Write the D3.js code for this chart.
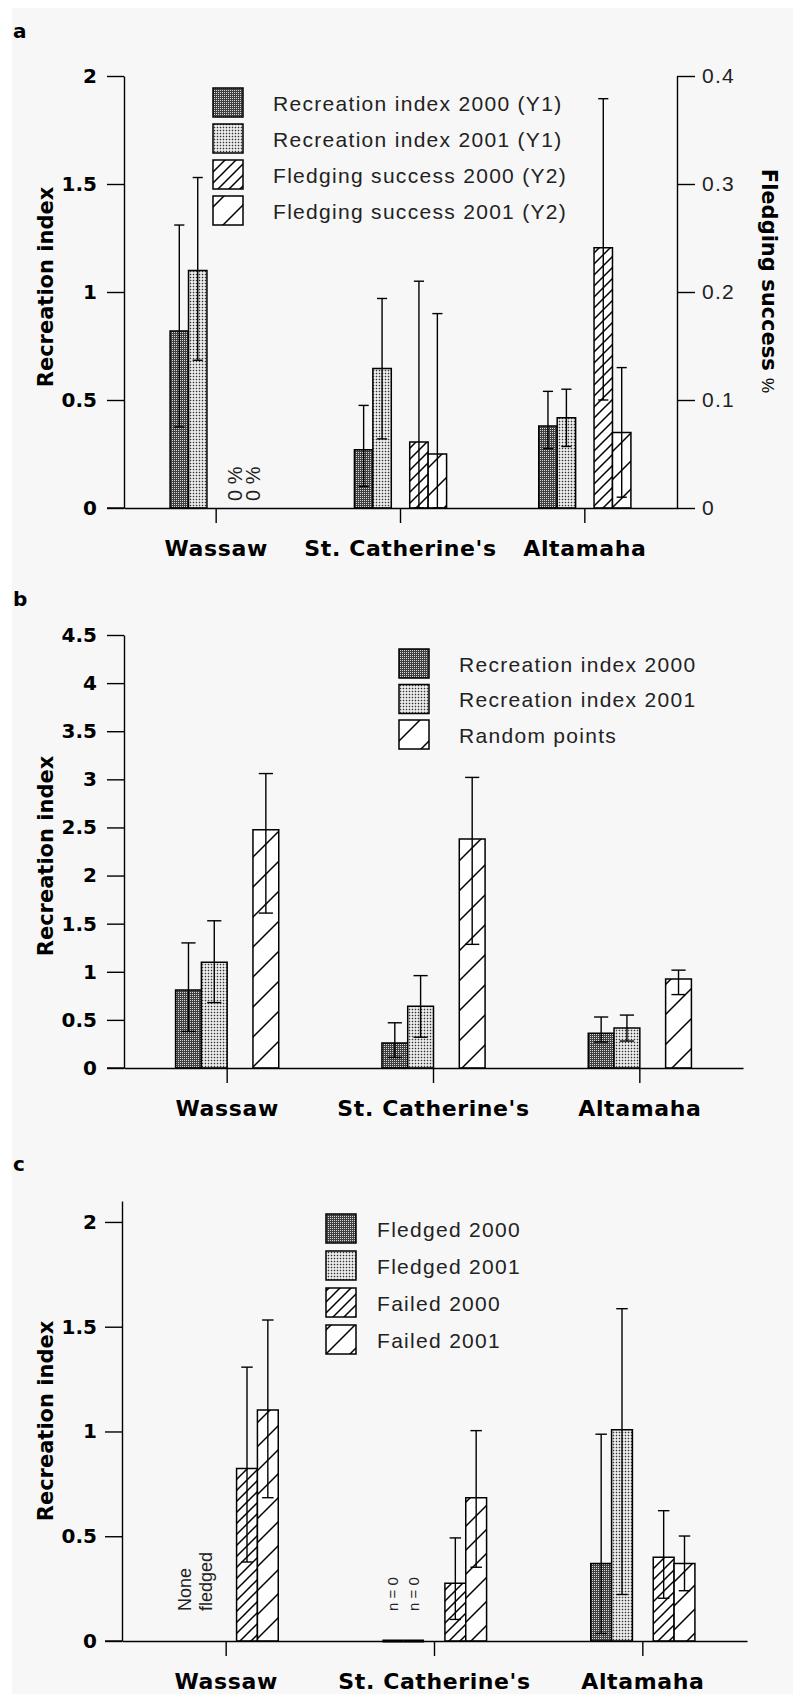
<!DOCTYPE html>
<html><head><meta charset="utf-8">
<script src="https://cdn.jsdelivr.net/npm/d3@7"></script>
<style>
html,body{margin:0;padding:0;background:#fff;}
svg{display:block;}
</style></head><body>
<svg id="chart" width="793" height="1694"></svg>
<script>
// ---------------- DATA ----------------
const categories = ["Wassaw", "St. Catherine's", "Altamaha"];

// Panel a
const aRec2000   = [0.82, 0.27, 0.38];
const aRec2000Lo = [0.375, 0.10, 0.275];
const aRec2000Hi = [1.31, 0.475, 0.54];
const aRec2001   = [1.10, 0.646, 0.418];
const aRec2001Lo = [0.684, 0.32, 0.285];
const aRec2001Hi = [1.53, 0.97, 0.55];
const aFs2000    = [null, 0.061, 0.241];
const aFs2000Lo  = [null, 0, 0.10];
const aFs2000Hi  = [null, 0.21, 0.379];
const aFs2001    = [null, 0.05, 0.07];
const aFs2001Lo  = [null, 0, 0.01];
const aFs2001Hi  = [null, 0.18, 0.13];
const aFsNote    = ["0 %", null, null];
const aLeftTicks  = [0, 0.5, 1, 1.5, 2];
const aRightTicks = [0, 0.1, 0.2, 0.3, 0.4];
const aLegend = ["Recreation index 2000 (Y1)", "Recreation index 2001 (Y1)",
                 "Fledging success 2000 (Y2)", "Fledging success 2001 (Y2)"];

// Panel b
const bRec2000   = [0.81, 0.26, 0.36];
const bRec2000Lo = [0.38, 0.11, 0.27];
const bRec2000Hi = [1.30, 0.47, 0.53];
const bRec2001   = [1.10, 0.643, 0.416];
const bRec2001Lo = [0.68, 0.32, 0.28];
const bRec2001Hi = [1.53, 0.96, 0.55];
const bRandom    = [2.475, 2.38, 0.926];
const bRandomLo  = [1.61, 1.285, 0.763];
const bRandomHi  = [3.06, 3.02, 1.017];
const bTicks = [0, 0.5, 1, 1.5, 2, 2.5, 3, 3.5, 4, 4.5];
const bLegend = ["Recreation index 2000", "Recreation index 2001", "Random points"];

// Panel c
const cFledged2000   = [null, 0, 0.37];
const cFledged2000Lo = [null, null, 0.036];
const cFledged2000Hi = [null, null, 0.987];
const cFledged2001   = [null, 0, 1.008];
const cFledged2001Lo = [null, null, 0.222];
const cFledged2001Hi = [null, null, 1.586];
const cFailed2000    = [0.823, 0.276, 0.40];
const cFailed2000Lo  = [0.377, 0.103, 0.204];
const cFailed2000Hi  = [1.307, 0.492, 0.622];
const cFailed2001    = [1.102, 0.684, 0.37];
const cFailed2001Lo  = [0.684, 0.352, 0.24];
const cFailed2001Hi  = [1.532, 1.004, 0.501];
const cFledged2000Note = ["None", "n = 0", null];
const cFledged2001Note = ["fledged", "n = 0", null];
const cTicks = [0, 0.5, 1, 1.5, 2];
const cLegend = ["Fledged 2000", "Fledged 2001", "Failed 2000", "Failed 2001"];

// ---------------- DRAWING ----------------
const BOLD = "'DejaVu Sans', sans-serif";
const REG = "'Liberation Sans', Arial, sans-serif";
const svg = d3.select("#chart");
const defs = svg.append("defs");

svg.append("rect").attr("width", 793).attr("height", 1694).attr("fill", "#fff");
svg.append("rect").attr("x", 12).attr("y", 8).attr("width", 781).attr("height", 1686).attr("fill", "#f7f7f7");

// patterns
(function(){
  const pd = defs.append("pattern").attr("id", "pDark").attr("patternUnits", "userSpaceOnUse")
    .attr("width", 2).attr("height", 2);
  pd.append("rect").attr("width", 2).attr("height", 2).attr("fill", "#404040");
  pd.append("rect").attr("width", 1).attr("height", 1).attr("fill", "#d8d8d8");
  const pl = defs.append("pattern").attr("id", "pLight").attr("patternUnits", "userSpaceOnUse")
    .attr("width", 3).attr("height", 3);
  pl.append("rect").attr("width", 3).attr("height", 3).attr("fill", "#fff");
  pl.append("rect").attr("x", 0.7).attr("y", 0.7).attr("width", 1.6).attr("height", 1.6).attr("fill", "#333");
})();
function hatch(id, s) {
  const p = defs.append("pattern").attr("id", id).attr("patternUnits", "userSpaceOnUse")
    .attr("width", s).attr("height", s);
  p.append("rect").attr("width", s).attr("height", s).attr("fill", "#fff");
  p.append("path")
    .attr("d", `M0,${s}L${s},0M${-s/2},${s/2}L${s/2},${-s/2}M${s/2},${s*1.5}L${s*1.5},${s/2}`)
    .attr("stroke", "#000").attr("stroke-width", 1.5).attr("fill", "none");
}
hatch("hDenseA", 11); hatch("hSparseA", 28);
hatch("hSparseB", 30);
hatch("hDenseC", 11); hatch("hSparseC", 24);

function styleAxis(sel, font, size, weight, ls) {
  sel.attr("font-family", null).attr("font-size", null);
  sel.select(".domain").attr("stroke", "#000").attr("stroke-width", 1.4);
  sel.selectAll(".tick line").attr("stroke", "#000").attr("stroke-width", 1.4);
  sel.selectAll(".tick text").attr("font-family", font).attr("font-size", size)
    .attr("font-weight", weight).attr("fill", "#000").attr("letter-spacing", ls || 0);
}

function panel(o) {
  const g = svg.append("g");
  const x = d3.scaleBand().domain(categories).range([o.x0, o.x1]);
  const yL = d3.scaleLinear().domain(o.yDomain).range([o.yBottom, o.yTop]);
  const yR = o.yRightDomain ? d3.scaleLinear().domain(o.yRightDomain).range([o.yBottom, o.yTop]) : null;
  const half = x.bandwidth() * 0.25;
  const inner = d3.scaleBand().domain(o.slots).range([-half, half]);
  const bw = inner.bandwidth();
  const capW = bw * 0.55;

  // bars
  o.series.forEach(s => {
    const ys = s.right ? yR : yL;
    const rows = categories.map((c, i) => ({c, v: s.values[i], lo: s.lo ? s.lo[i] : null, hi: s.hi ? s.hi[i] : null,
      note: s.note ? s.note[i] : null}));
    const bx = d => x(d.c) + x.bandwidth() / 2 + inner(s.key);
    g.append("g").selectAll("path").data(rows.filter(d => d.v != null)).join("path")
      .attr("d", d => `M${bx(d)},${ys(0)}V${ys(d.v)}H${bx(d) + bw}V${ys(0)}Z`)
      .attr("fill", `url(#${s.fill})`).attr("stroke", "#000")
      .attr("stroke-width", d => d.v === 0 ? 3 : 1.5);
    // error bars
    const eg = g.append("g").attr("stroke", "#000").attr("stroke-width", 1.4).attr("fill", "none");
    rows.filter(d => d.v != null && d.hi != null).forEach(d => {
      const cx = bx(d) + bw / 2;
      eg.append("line").attr("x1", cx).attr("x2", cx).attr("y1", ys(d.lo)).attr("y2", ys(d.hi));
      eg.append("line").attr("x1", cx - capW/2).attr("x2", cx + capW/2).attr("y1", ys(d.hi)).attr("y2", ys(d.hi));
      eg.append("line").attr("x1", cx - capW/2).attr("x2", cx + capW/2).attr("y1", ys(d.lo)).attr("y2", ys(d.lo));
    });
    // notes (rotated)
    rows.filter(d => d.note).forEach(d => {
      const cx = bx(d) + bw / 2;
      const fs = s.noteSize(d.note);
      g.append("text").attr("transform", `translate(${cx + fs * 0.36},${ys(0) - s.noteOffset}) rotate(-90)`)
        .attr("font-family", REG).attr("font-size", fs).attr("fill", "#222")
        .attr("text-anchor", "start").text(d.note);
    });
  });

  // left axis
  const ga = g.append("g").attr("transform", `translate(${o.x0},0)`)
    .call(d3.axisLeft(yL).tickValues(o.ticks).tickSize(17).tickSizeOuter(0).tickPadding(o.tickPad).tickFormat(d => String(d)));
  styleAxis(ga, BOLD, 20, "bold");
  if (o.yTopExtra) ga.select(".domain").attr("d", `M0,${o.yBottom}V${o.yTopExtra}`);

  // right axis
  if (yR) {
    const gr = g.append("g").attr("transform", `translate(${o.x1},0)`)
      .call(d3.axisRight(yR).tickValues(o.rightTicks).tickSize(18).tickSizeOuter(0).tickPadding(7).tickFormat(d => String(d)));
    styleAxis(gr, REG, 21, "normal", 1.2);
    gr.selectAll(".tick text").attr("fill", "#222");
    g.append("text").attr("transform", `translate(${o.rightTitleX},${o.rightTitleY}) rotate(90)`)
      .attr("text-anchor", "middle").attr("font-family", BOLD).attr("font-size", 21).attr("font-weight", "bold")
      .text("Fledging success ")
      .append("tspan").attr("font-weight", "normal").attr("font-family", REG).attr("font-size", 17).text("%");
  }

  // x axis
  const gx = g.append("g").attr("transform", `translate(0,${o.yBottom})`)
    .call(d3.axisBottom(x).tickSize(15).tickSizeOuter(0).tickPadding(17));
  styleAxis(gx, BOLD, 22, "bold", 0.6);
  g.append("line").attr("x1", o.x0 - 17).attr("x2", o.x0).attr("y1", o.yBottom).attr("y2", o.yBottom)
    .attr("stroke", "#000").attr("stroke-width", 1.4);

  // y title
  g.append("text").attr("transform", `translate(53,${o.titleY}) rotate(-90)`)
    .attr("text-anchor", "middle").attr("font-family", BOLD).attr("font-size", 21).attr("font-weight", "bold")
    .text("Recreation index");

  // panel letter
  g.append("text").attr("x", 13).attr("y", o.letterY).attr("font-family", BOLD).attr("font-size", 20)
    .attr("font-weight", "bold").text(o.letter);

  // legend
  const lg = g.append("g");
  o.legend.forEach((t, i) => {
    const yy = o.legY + i * o.legStep;
    lg.append("rect").attr("x", o.legX).attr("y", yy).attr("width", 30).attr("height", 29)
      .attr("fill", `url(#${o.legFills[i]})`).attr("stroke", "#000").attr("stroke-width", 1.5);
    lg.append("text").attr("x", o.legTextX).attr("y", yy + 22.5).attr("font-family", REG).attr("font-size", 21)
      .attr("letter-spacing", 1.3).attr("fill", "#222").text(t);
  });
}

// Panel a
panel({
  letter: "a", letterY: 38,
  x0: 124, x1: 677, yBottom: 508, yTop: 76, yDomain: [0, 2], ticks: aLeftTicks, tickPad: 10,
  yRightDomain: [0, 0.4], rightTicks: aRightTicks, rightTitleX: 762, rightTitleY: 281,
  titleY: 287,
  slots: ["r0", "r1", "gap", "f0", "f1"],
  series: [
    {key: "r0", values: aRec2000, lo: aRec2000Lo, hi: aRec2000Hi, fill: "pDark"},
    {key: "r1", values: aRec2001, lo: aRec2001Lo, hi: aRec2001Hi, fill: "pLight"},
    {key: "f0", values: aFs2000, lo: aFs2000Lo, hi: aFs2000Hi, fill: "hDenseA", right: true,
     note: aFsNote, noteSize: () => 20, noteOffset: 7},
    {key: "f1", values: aFs2001, lo: aFs2001Lo, hi: aFs2001Hi, fill: "hSparseA", right: true,
     note: aFsNote, noteSize: () => 20, noteOffset: 7}
  ],
  legend: aLegend, legFills: ["pDark", "pLight", "hDenseA", "hSparseA"],
  legX: 213, legY: 88, legStep: 36, legTextX: 273
});

// Panel b
panel({
  letter: "b", letterY: 606,
  x0: 124, x1: 743, yBottom: 1068, yTop: 635, yDomain: [0, 4.5], ticks: bTicks, tickPad: 10,
  titleY: 856,
  slots: ["r0", "r1", "gap", "rp"],
  series: [
    {key: "r0", values: bRec2000, lo: bRec2000Lo, hi: bRec2000Hi, fill: "pDark"},
    {key: "r1", values: bRec2001, lo: bRec2001Lo, hi: bRec2001Hi, fill: "pLight"},
    {key: "rp", values: bRandom, lo: bRandomLo, hi: bRandomHi, fill: "hSparseB"}
  ],
  legend: bLegend, legFills: ["pDark", "pLight", "hSparseB"],
  legX: 399, legY: 649, legStep: 35.5, legTextX: 459
});

// Panel c
panel({
  letter: "c", letterY: 1171,
  x0: 122, x1: 747, yBottom: 1641, yTop: 1201, yDomain: [0, 2.1], ticks: cTicks, tickPad: 8,
  titleY: 1421,
  slots: ["fl0", "fl1", "gap", "fa0", "fa1"],
  series: [
    {key: "fl0", values: cFledged2000, lo: cFledged2000Lo, hi: cFledged2000Hi, fill: "pDark",
     note: cFledged2000Note, noteSize: t => t.startsWith("n") ? 15 : 18, noteOffset: 30},
    {key: "fl1", values: cFledged2001, lo: cFledged2001Lo, hi: cFledged2001Hi, fill: "pLight",
     note: cFledged2001Note, noteSize: t => t.startsWith("n") ? 15 : 18, noteOffset: 30},
    {key: "fa0", values: cFailed2000, lo: cFailed2000Lo, hi: cFailed2000Hi, fill: "hDenseC"},
    {key: "fa1", values: cFailed2001, lo: cFailed2001Lo, hi: cFailed2001Hi, fill: "hSparseC"}
  ],
  legend: cLegend, legFills: ["pDark", "pLight", "hDenseC", "hSparseC"],
  legX: 326, legY: 1214, legStep: 37, legTextX: 377
});
</script>
</body></html>
